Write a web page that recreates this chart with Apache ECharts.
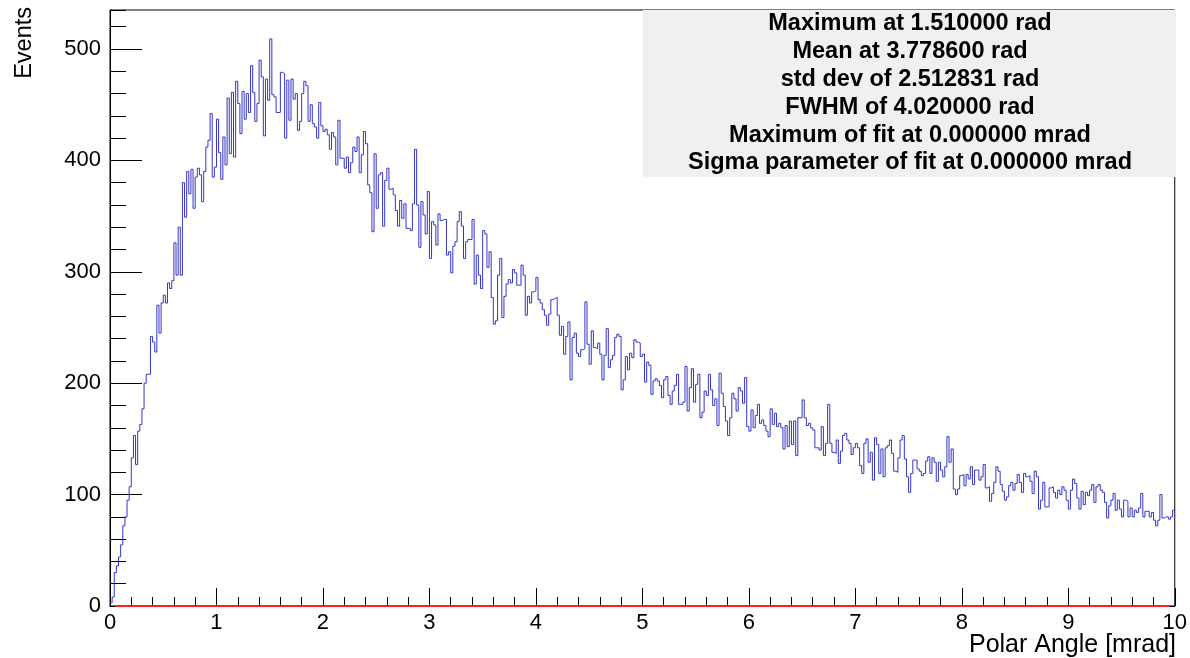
<!DOCTYPE html>
<html><head><meta charset="utf-8">
<script src="https://cdn.jsdelivr.net/npm/echarts@6/dist/echarts.min.js"></script>
<style>html,body{margin:0;padding:0;background:#fff}#c{width:1190px;height:658px}</style>
</head><body><div id="c"></div>
<script>
// ---- data ----
const binWidth = 0.02;
const xMin = 0, xMax = 10;
const yMin = 0, yMax = 535;
const xTickLabels = [0,1,2,3,4,5,6,7,8,9,10];
const yTickLabels = [0,100,200,300,400,500];
const xTitle = "Polar Angle [mrad]";
const yTitle = "Events";
const fitRange = [0.05, 9.95];
const fitValue = 0;
const statsLines = [
  "Maximum at 1.510000 rad",
  "Mean at 3.778600 rad",
  "std dev of 2.512831 rad",
  "FWHM of 4.020000 rad",
  "Maximum of fit at 0.000000 mrad",
  "Sigma parameter of fit at 0.000000 mrad"
];
// bin contents, 50 bins per unit of x
const counts0 = [3, 8, 30, 36, 44, 55, 72, 80, 95, 107,
 133, 153, 127, 157, 163, 177, 200, 208, 208, 242,
 237, 228, 270, 245, 272, 279, 272, 290, 285, 292,
 326, 297, 340, 297, 380, 349, 390, 370, 392, 357,
 385, 393, 387, 363, 390, 412, 418, 442, 385, 394];
const counts1 = [437, 407, 383, 421, 396, 456, 406, 461, 403, 471,
 451, 424, 462, 437, 460, 443, 485, 461, 435, 451,
 490, 475, 422, 473, 454, 509, 459, 457, 443, 443,
 479, 478, 420, 472, 436, 473, 455, 460, 427, 435,
 460, 471, 467, 435, 450, 433, 430, 420, 452, 431];
const counts2 = [426, 428, 423, 410, 425, 421, 396, 436, 402, 402,
 393, 403, 389, 398, 412, 408, 421, 389, 405, 426,
 415, 378, 371, 336, 406, 357, 387, 389, 341, 382,
 393, 374, 375, 369, 355, 341, 364, 348, 361, 339,
 339, 337, 361, 410, 360, 322, 363, 351, 334, 372];
const counts3 = [312, 345, 342, 324, 352, 346, 347, 347, 315, 318,
 299, 323, 327, 345, 354, 341, 312, 327, 329, 329,
 347, 289, 315, 297, 285, 337, 334, 304, 318, 277,
 253, 256, 297, 312, 259, 278, 289, 293, 290, 302,
 299, 288, 288, 306, 297, 261, 278, 272, 282, 283];
const counts4 = [295, 275, 272, 266, 261, 252, 262, 275, 276, 277,
 261, 243, 251, 226, 242, 255, 203, 241, 245, 227,
 224, 230, 231, 273, 235, 217, 247, 232, 231, 236,
 226, 203, 225, 249, 214, 221, 225, 241, 244, 242,
 194, 203, 224, 212, 227, 223, 239, 237, 236, 224];
const counts5 = [226, 201, 219, 216, 190, 202, 204, 202, 198, 187,
 203, 206, 189, 181, 193, 198, 208, 181, 181, 183,
 215, 175, 196, 213, 183, 199, 208, 169, 174, 193,
 189, 208, 194, 180, 186, 162, 209, 191, 179, 166,
 153, 169, 191, 186, 175, 196, 193, 182, 205, 161];
const counts6 = [157, 176, 160, 171, 181, 164, 167, 162, 157, 152,
 177, 163, 173, 161, 164, 160, 141, 162, 143, 166,
 145, 166, 135, 169, 169, 185, 169, 162, 164, 160,
 158, 142, 142, 140, 161, 135, 146, 181, 146, 138,
 137, 149, 128, 139, 153, 155, 149, 146, 136, 142];
const counts7 = [146, 142, 126, 119, 146, 150, 129, 138, 113, 151,
 145, 119, 141, 116, 142, 144, 149, 137, 121, 120,
 133, 149, 153, 132, 116, 102, 119, 131, 131, 123,
 121, 117, 119, 130, 134, 119, 133, 129, 112, 129,
 122, 116, 125, 152, 129, 141, 105, 100, 105, 117];
const counts8 = [118, 108, 118, 114, 125, 109, 122, 122, 113, 116,
 127, 106, 107, 94, 101, 111, 125, 121, 109, 103,
 95, 98, 108, 111, 104, 110, 118, 111, 102, 119,
 116, 117, 112, 101, 121, 116, 87, 95, 111, 89,
 89, 106, 107, 102, 97, 104, 100, 107, 104, 95];
const counts9 = [87, 104, 114, 110, 97, 87, 103, 91, 102, 99,
 104, 109, 93, 107, 109, 104, 102, 93, 79, 90,
 95, 101, 86, 95, 87, 80, 95, 94, 80, 88,
 80, 86, 84, 88, 101, 80, 85, 85, 80, 84,
 77, 72, 77, 100, 79, 80, 80, 78, 80, 86];

// ---- build ----
const counts = [].concat(counts0, counts1, counts2, counts3, counts4,
                         counts5, counts6, counts7, counts8, counts9);
const histData = counts.map((v, i) => [+(i * binWidth).toFixed(2), v]);
histData.push([xMax, counts[counts.length - 1]]);

const FONT = "'Liberation Sans', Arial, Helvetica, sans-serif";
const chart = echarts.init(document.getElementById('c'), null, {renderer: 'canvas'});

const statsGraphics = [{
  type: 'rect', left: 643, top: 10, z: 10,
  shape: {width: 533, height: 167},
  style: {fill: '#f0f0f0'}
}];
statsLines.forEach((t, i) => {
  statsGraphics.push({
    type: 'text', z: 11,
    x: 910, y: 24 + i * 27.8,
    style: {text: t, font: 'bold 23.5px ' + FONT, fill: '#000',
            textAlign: 'center', textVerticalAlign: 'middle'}
  });
});

chart.setOption({
  animation: false,
  backgroundColor: '#fff',
  grid: {left: 110, right: 14, top: 10, bottom: 52, show: true,
         borderColor: '#000', borderWidth: 1, backgroundColor: 'transparent'},
  xAxis: [{
    type: 'value', min: xMin, max: xMax, interval: 1,
    axisLine: {show: true, onZero: false, lineStyle: {color: '#000', width: 1}},
    axisTick: {show: true, inside: true, length: 18, lineStyle: {color: '#000'}},
    axisLabel: {fontSize: 22, fontFamily: FONT, color: '#000', margin: 6,
      formatter: v => xTickLabels.indexOf(v) >= 0 ? String(v) : ''},
    splitLine: {show: false}
  }, {
    type: 'value', min: xMin, max: xMax, interval: 0.2, position: 'bottom',
    axisLine: {show: false, onZero: false},
    axisTick: {show: true, inside: true, length: 9, lineStyle: {color: '#000'}},
    axisLabel: {show: false}, splitLine: {show: false}
  }],
  yAxis: [{
    type: 'value', min: yMin, max: yMax, interval: 100,
    axisLine: {show: true, onZero: false, lineStyle: {color: '#000', width: 1}},
    axisTick: {show: true, inside: true, length: 32, lineStyle: {color: '#000'}},
    axisLabel: {fontSize: 22, fontFamily: FONT, color: '#000', margin: 9, showMaxLabel: false,
      formatter: v => yTickLabels.indexOf(v) >= 0 ? String(v) : ''},
    splitLine: {show: false}
  }, {
    type: 'value', min: yMin, max: yMax, interval: 20, position: 'left', offset: 0,
    axisLine: {show: false, onZero: false},
    axisTick: {show: true, inside: true, length: 16, lineStyle: {color: '#000'}},
    axisLabel: {show: false}, splitLine: {show: false}
  }],
  series: [{
    type: 'line', xAxisIndex: 0, yAxisIndex: 0, data: histData, step: 'end',
    symbol: 'none', lineStyle: {color: '#3535c8', width: 1}, z: 3, silent: true
  }, {
    type: 'line', xAxisIndex: 0, yAxisIndex: 0,
    data: [[fitRange[0], fitValue], [fitRange[1], fitValue]],
    symbol: 'none', lineStyle: {color: '#ff2020', width: 2}, z: 4, silent: true
  }],
  graphic: statsGraphics.concat([{
    type: 'text', x: 1176, y: 645, z: 11,
    style: {text: xTitle, font: '25px ' + FONT, fill: '#000',
            textAlign: 'right', textVerticalAlign: 'middle'}
  }, {
    type: 'text', x: 25, y: 7, rotation: Math.PI / 2, z: 11,
    style: {text: yTitle, font: '23.5px ' + FONT, fill: '#000',
            textAlign: 'right', textVerticalAlign: 'middle'}
  }])
});
</script>
</body></html>
